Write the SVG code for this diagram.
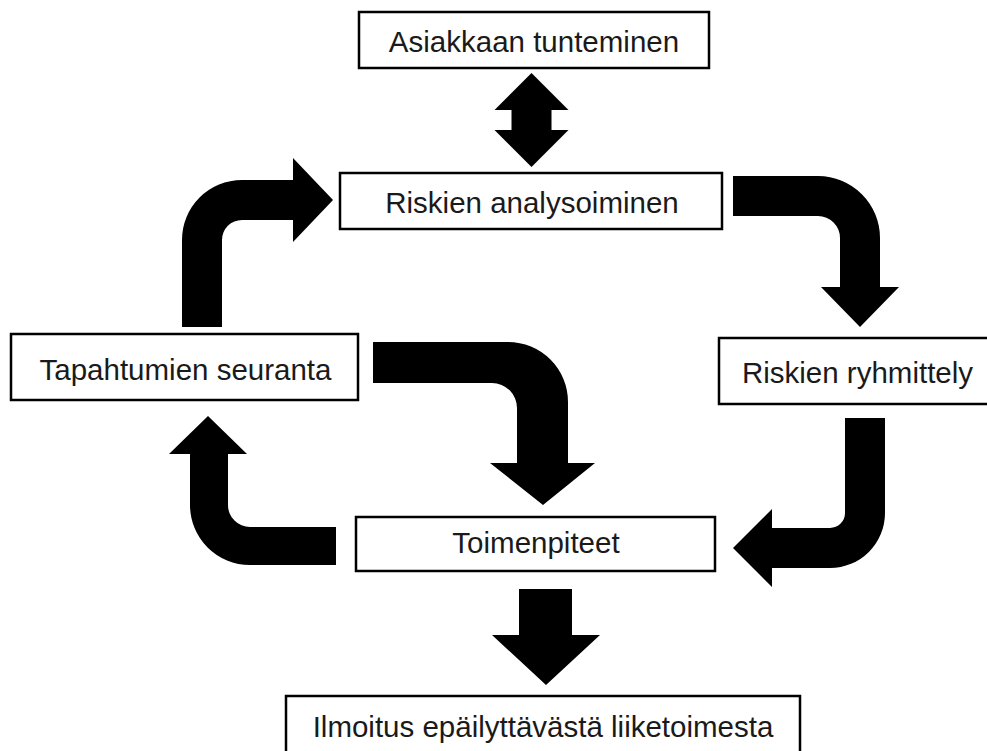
<svg xmlns="http://www.w3.org/2000/svg" width="987" height="751" viewBox="0 0 987 751">
<style>
.box{fill:#fff;stroke:#000;stroke-width:2.5}
.lbl{font-family:"Liberation Sans",Arial,sans-serif;font-size:29.5px;fill:#1a1a1a;text-anchor:middle}
.arr{fill:#000;stroke:none}
</style>
<rect width="987" height="751" fill="#fff"/>
<g id="connectors">
<path class="arr" d="M531.5,73 L568.5,110 L551.5,110 L551.5,130 L568.5,130 L531.5,167 L494.5,130 L511.5,130 L511.5,110 L494.5,110 Z"/>
<path class="arr" d="M733,176 L818,176 A62,62 0 0 1 880,238 L880,287 L899,287 L860,327 L821,287 L840,287 L840,238 A22,22 0 0 0 818,216 L733,216 Z"/>
<path class="arr" d="M845,418 L885,418 L885,513 A55,55 0 0 1 830,568 L772,568 L772,587 L733,548 L772,509 L772,528 L830,528 A15,15 0 0 0 845,513 Z"/>
<path class="arr" d="M373,342 L508,342 A60,60 0 0 1 568,402 L568,463 L595,463 L543,505 L490,463 L517,463 L517,408 A25,25 0 0 0 492,383 L373,383 Z"/>
<path class="arr" d="M336,527 L250,527 A22,22 0 0 1 228,505 L228,454 L247,454 L208,416 L169,454 L190,454 L190,505 A60,60 0 0 0 250,565 L336,565 Z"/>
<path class="arr" d="M182,327 L182,240 A60,60 0 0 1 242,180 L293,180 L293,158 L333,200 L293,242 L293,220 L242,220 A20,20 0 0 0 222,240 L222,327 Z"/>
<path class="arr" d="M519,589 L572,589 L572,635 L600,635 L546,685 L492,635 L519,635 Z"/>
</g>
<g id="asiakkaan">
<rect class="box" x="359" y="12" width="350" height="56"/>
<text class="lbl" x="534" y="52">Asiakkaan tunteminen</text>
</g>
<g id="analysoiminen">
<rect class="box" x="340" y="173" width="382" height="56"/>
<text class="lbl" x="532" y="213">Riskien analysoiminen</text>
</g>
<g id="seuranta">
<rect class="box" x="11" y="334" width="347" height="66"/>
<text class="lbl" x="185.5" y="380">Tapahtumien seuranta</text>
</g>
<g id="ryhmittely">
<rect class="box" x="719" y="338" width="280" height="66"/>
<text class="lbl" x="857.5" y="383">Riskien ryhmittely</text>
</g>
<g id="toimenpiteet">
<rect class="box" x="356" y="517" width="359" height="54"/>
<text class="lbl" x="536" y="553">Toimenpiteet</text>
</g>
<g id="ilmoitus">
<rect class="box" x="286" y="696" width="514" height="80"/>
<text class="lbl" x="543" y="737">Ilmoitus epäilyttävästä liiketoimesta</text>
</g>
</svg>
